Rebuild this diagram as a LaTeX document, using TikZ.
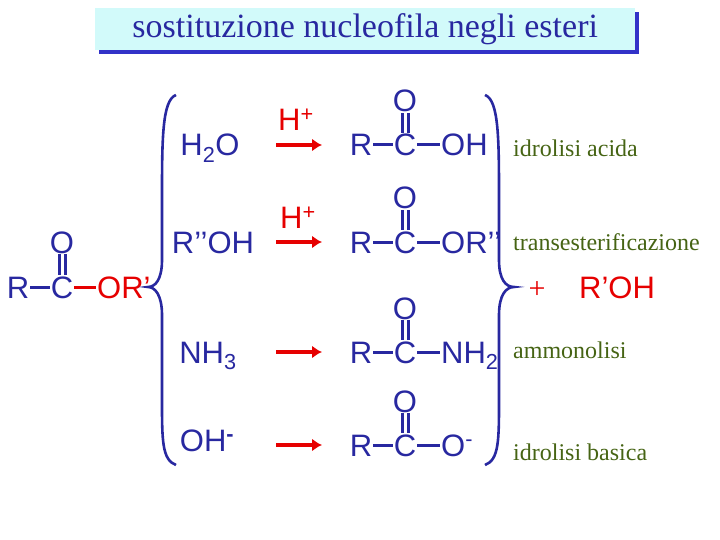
\documentclass[tikz,border=0pt]{standalone}
\usepackage{fontspec}
\usetikzlibrary{arrows.meta}
\setmainfont{Liberation Serif}
\newfontfamily\chem{Liberation Sans}
\definecolor{bl}{RGB}{40,40,160}
\definecolor{rd}{RGB}{230,0,0}
\definecolor{gr}{RGB}{70,100,20}
\definecolor{cy}{RGB}{210,250,250}
\definecolor{sh}{RGB}{50,50,200}
\begin{document}
\begin{tikzpicture}[x=1pt,y=-1pt,
  ch/.style={font=\chem\fontsize{31}{31}\selectfont,text=bl,inner sep=1pt,text height=22pt,text depth=0pt},
  chr/.style={ch,text=rd},
  lab/.style={font=\fontsize{24}{24}\selectfont,text=gr,anchor=west,inner sep=0pt},
  bond/.style={draw=bl,line width=3pt},
  rbond/.style={draw=rd,line width=3pt},
  arr/.style={draw=rd,line width=3.5pt,-{Latex[length=10pt,width=13pt]}},
  brace/.style={draw=bl,line width=2.6pt}]
\useasboundingbox (0,0) rectangle (720,540);
% title
\fill[sh] (99,12) rectangle (639,54);
\node[fill=cy,minimum width=540pt,minimum height=42pt,inner sep=0pt,anchor=north west,
  font=\fontsize{34}{34}\selectfont,text=bl] (title) at (95,8) {sostituzione nucleofila negli esteri};
% ester
\node[ch] (eR) at (18,287) {R};
\node[ch] (eC) at (62,287) {C};
\node[chr,anchor=west] (eOR) at (96,287) {OR’};
\node[ch] (eO) at (62,242) {O};
\draw[bond] (eR.east) -- (eC.west);
\draw[rbond] (eC.east) -- (eOR.west);
\draw[bond] ([xshift=-3pt]eO.south) -- ([xshift=-3pt]eC.north);
\draw[bond] ([xshift=3pt]eO.south) -- ([xshift=3pt]eC.north);
% braces
\coordinate (lb1) at (176,95); \coordinate (lb2) at (176,465); \coordinate (lbt) at (148,287);
\draw[brace] (lb1) .. controls (162,100) and (162,140) .. (162,200) -- (162,260)
  .. controls (162,280) and (155,287) .. (lbt) .. controls (155,287) and (162,295) .. (162,315)
  -- (162,400) .. controls (162,440) and (162,460) .. (lb2);
\coordinate (rb1) at (485,95); \coordinate (rb2) at (485,465); \coordinate (rbt) at (514,287);
\draw[brace] (rb1) .. controls (499,100) and (499,140) .. (499,200) -- (499,260)
  .. controls (499,280) and (506,287) .. (rbt) .. controls (506,287) and (499,295) .. (499,315)
  -- (499,400) .. controls (499,440) and (499,460) .. (rb2);
% reagents
\node[ch] (r1) at (210,145) {H\textsubscript{2}O};
\node[ch] (r2) at (213,242) {R’’OH};
\node[ch] (r3) at (208,352) {NH\textsubscript{3}};
\node[ch] (r4) at (207,440) {OH\textsuperscript{\bfseries -}};
% arrows
\foreach \i/\y in {1/145,2/242,3/352,4/445}{
  \coordinate (a\i s) at (276,\y); \coordinate (a\i e) at (322,\y);
  \draw[arr] (a\i s) -- (a\i e);}
\node[chr] (h1) at (296,120) {H\textsuperscript{+}};
\node[chr] (h2) at (298,218) {H\textsuperscript{+}};
% products
\foreach \i/\y/\g in {1/145/OH,2/242/OR’’,3/352/NH\textsubscript{2},4/445/O\textsuperscript{-}}{
  \node[ch] (p\i R) at (361,\y) {R};
  \node[ch] (p\i C) at (405,\y) {C};
  \node[ch] (p\i O) at (405,\y-44) {O};
  \node[ch,anchor=west] (p\i G) at (440,\y) {\g};
  \draw[bond] (p\i R.east) -- (p\i C.west);
  \draw[bond] (p\i C.east) -- (p\i G.west |- p\i C.east);
  \draw[bond] ([xshift=-3pt]p\i O.south) -- ([xshift=-3pt]p\i C.north);
  \draw[bond] ([xshift=3pt]p\i O.south) -- ([xshift=3pt]p\i C.north);
}
% labels
\node[lab] (l1) at (513,148) {idrolisi acida};
\node[lab] (l2) at (513,242) {transesterificazione};
\node[lab] (l3) at (513,350) {ammonolisi};
\node[lab] (l4) at (513,452) {idrolisi basica};
\node[font=\fontsize{30}{30}\selectfont,text=rd] (plus) at (537,290) {+};
\node[chr,anchor=west] (roh) at (578,287) {R’OH};
\end{tikzpicture}
\end{document}
